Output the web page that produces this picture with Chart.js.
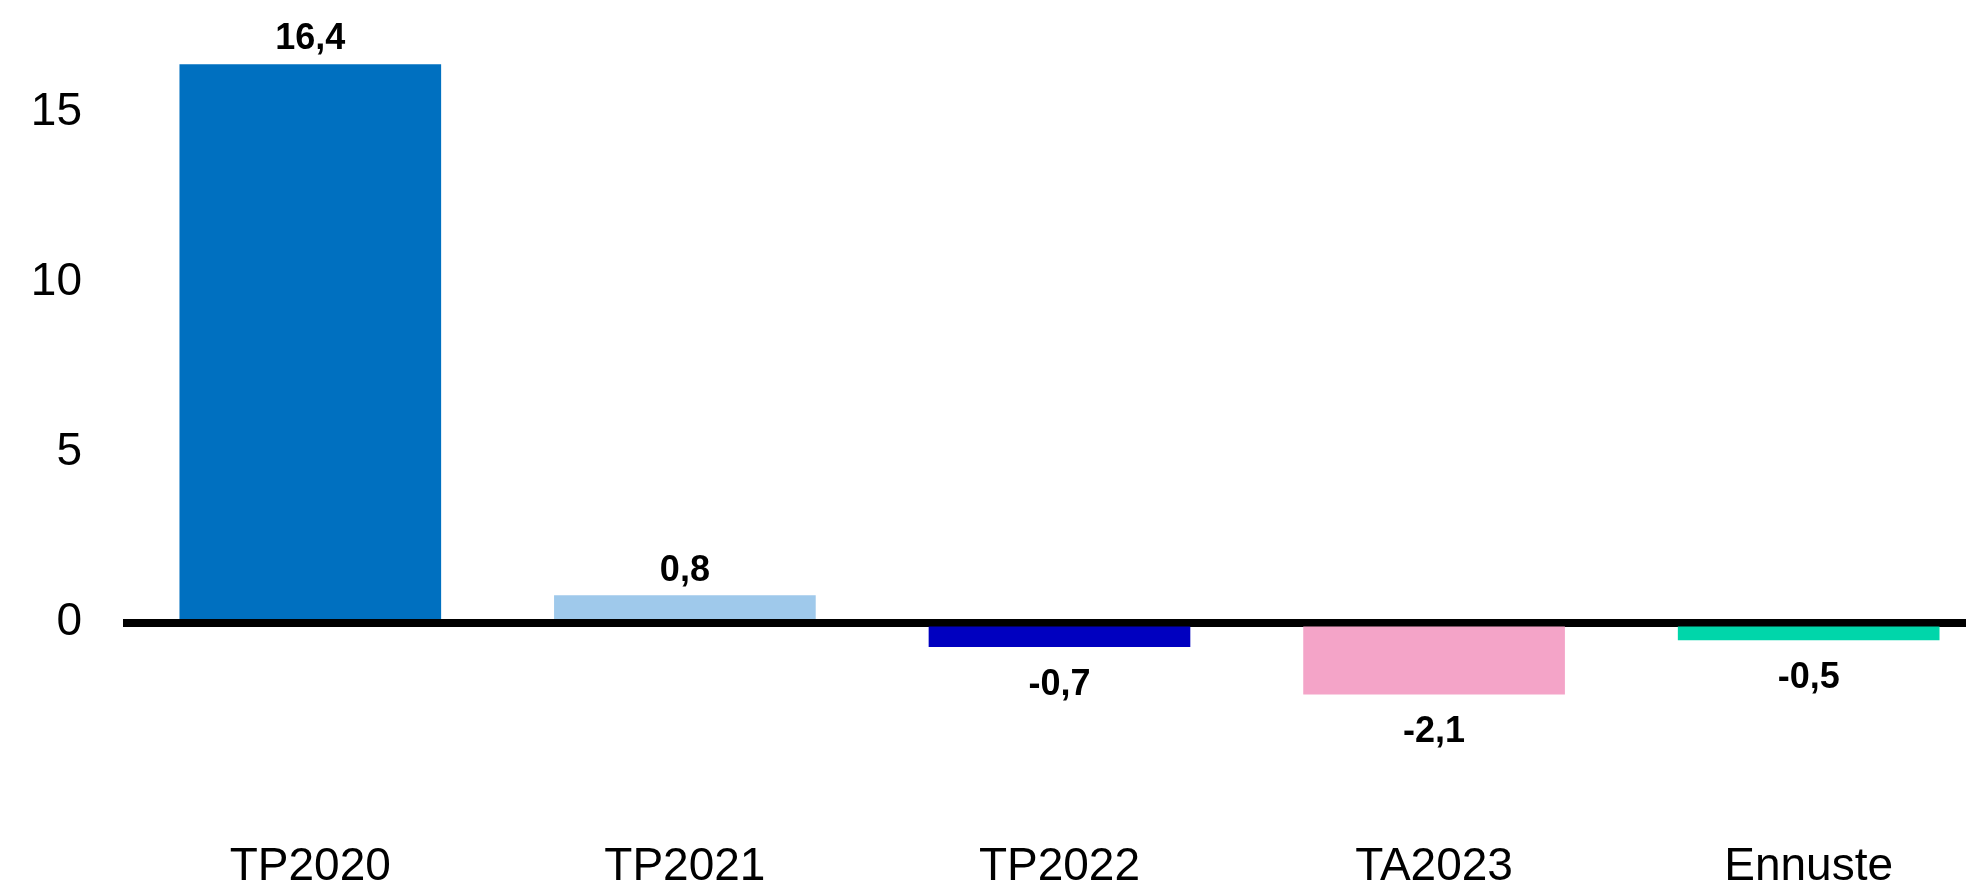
<!DOCTYPE html>
<html>
<head>
<meta charset="utf-8">
<script src="https://cdn.jsdelivr.net/npm/chart.js@4/dist/chart.umd.min.js"></script>
<style>
  html, body { margin: 0; padding: 0; background: #fff; }
  #wrap { width: 1966px; height: 890px; }
</style>
</head>
<body>
<div id="wrap"><canvas id="myChart" width="1966" height="890"></canvas></div>
<script>
// data
var categories = ['TP2020', 'TP2021', 'TP2022', 'TA2023', 'Ennuste'];
var values = [16.4, 0.8, -0.7, -2.1, -0.5];
var barColors = ['#0070C0', '#9FC9EB', '#0000C0', '#F4A4C8', '#00D6AA'];
var yTicks = [0, 5, 10, 15];

var fontName = "'Liberation Sans', Arial, sans-serif";

// no extra padding for edge labels
function noPadding(scale) {
  scale.paddingLeft = 0;
  scale.paddingRight = 0;
  scale.paddingTop = 0;
  scale.paddingBottom = 0;
}

// value labels above / below the bars
var valueLabels = {
  id: 'valueLabels',
  afterDatasetsDraw: function(chart) {
    var ctx = chart.ctx;
    var meta = chart.getDatasetMeta(0);
    ctx.save();
    ctx.font = 'bold 36px ' + fontName;
    ctx.fillStyle = '#000';
    ctx.textAlign = 'center';
    ctx.textBaseline = 'alphabetic';
    meta.data.forEach(function(bar, i) {
      var v = values[i];
      var txt = v.toFixed(1).replace('.', ',');
      if (v >= 0) {
        ctx.fillText(txt, bar.x, bar.y - 15);
      } else {
        ctx.fillText(txt, bar.x, bar.y + 48);
      }
    });
    ctx.restore();
  }
};

var points = values.map(function(v, i) {
  return { x: i, y: v };
});

var ctx = document.getElementById('myChart').getContext('2d');
var myChart = new Chart(ctx, {
  type: 'bar',
  data: {
    datasets: [
      {
        data: points,
        backgroundColor: barColors,
        borderWidth: 0,
        barThickness: 261
      }
    ]
  },
  options: {
    responsive: false,
    animation: false,
    devicePixelRatio: 1,
    layout: { padding: { top: 10, left: 31, right: 0, bottom: 0 } },
    plugins: {
      legend: { display: false },
      tooltip: { enabled: false }
    },
    scales: {
      x: {
        type: 'linear',
        min: -0.5,
        max: 4.42,
        offset: false,
        grid: { display: false, drawTicks: false },
        border: { display: false },
        afterBuildTicks: function(scale) {
          scale.ticks = categories.map(function(c, i) { return { value: i }; });
        },
        afterFit: function(scale) {
          scale.height = 97;
          noPadding(scale);
        },
        ticks: {
          padding: 47,
          maxRotation: 0,
          autoSkip: false,
          color: '#000',
          font: { family: fontName, size: 46 },
          callback: function(value) {
            return categories[value];
          }
        }
      },
      y: {
        min: -5,
        max: 18,
        z: 1,
        border: { display: false },
        afterBuildTicks: function(scale) {
          scale.ticks = [-5].concat(yTicks).map(function(v) { return { value: v }; });
        },
        afterFit: function(scale) {
          scale.width = 92;
          noPadding(scale);
        },
        grid: {
          drawTicks: false,
          color: function(c) {
            return c.tick && c.tick.value === 0 ? '#000' : 'rgba(0,0,0,0)';
          },
          lineWidth: function(c) {
            return c.tick && c.tick.value === 0 ? 8 : 0;
          }
        },
        ticks: {
          padding: 41,
          color: '#000',
          font: { family: fontName, size: 46 },
          callback: function(value) {
            return value < 0 ? '' : value;
          }
        }
      }
    }
  },
  plugins: [valueLabels]
});
</script>
</body>
</html>
